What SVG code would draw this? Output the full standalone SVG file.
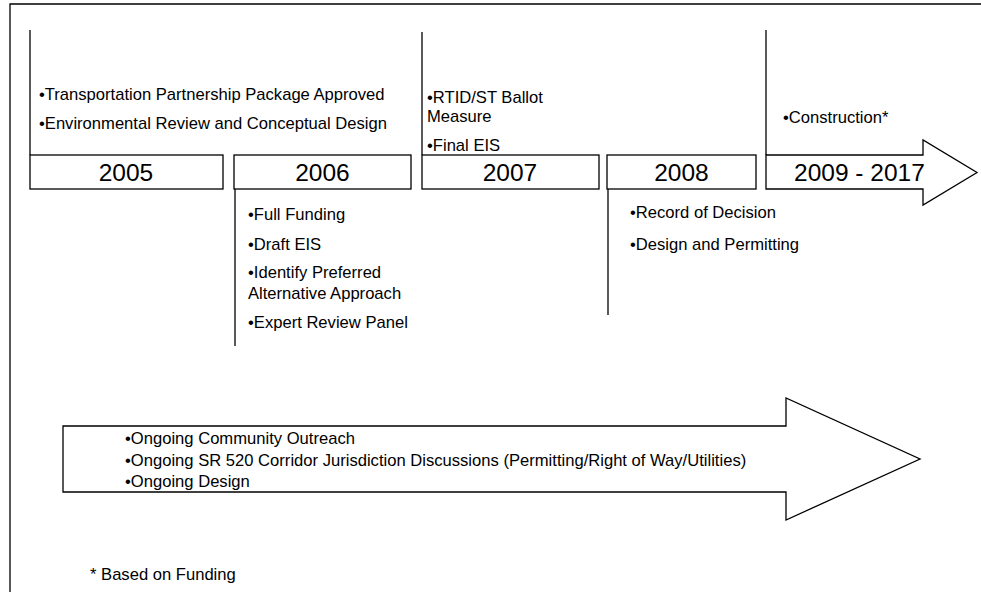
<svg xmlns="http://www.w3.org/2000/svg" width="981" height="592" viewBox="0 0 981 592">
  <style>
    .ln { stroke: #000; stroke-width: 1.3; fill: none; }
    .box { stroke: #000; stroke-width: 1.3; fill: #fff; }
    .t { font-family: "Liberation Sans", Arial, sans-serif; font-size: 16.6px; fill: #000; }
    .yr { font-family: "Liberation Sans", Arial, sans-serif; font-size: 24.5px; fill: #000; text-anchor: middle; }
  </style>
  <rect width="981" height="592" fill="#fff"/>

  <!-- page frame -->
  <g id="frame">
    <path class="ln" d="M10,592 V4 H981"/>
  </g>

  <!-- leader lines tying each year to its notes -->
  <g id="connectors">
    <line class="ln" x1="30" y1="30" x2="30" y2="155"/>
    <line class="ln" x1="235" y1="189" x2="235" y2="346"/>
    <line class="ln" x1="422" y1="32" x2="422" y2="155"/>
    <line class="ln" x1="608" y1="189" x2="608" y2="315"/>
    <line class="ln" x1="766" y1="30" x2="766" y2="155"/>
  </g>

  <g id="y2005">
    <rect class="box" x="30" y="155" width="193" height="34"/>
    <text class="yr" x="126" y="181">2005</text>
    <text class="t" x="39" y="100">•Transportation Partnership Package Approved</text>
    <text class="t" x="39" y="129">•Environmental Review and Conceptual Design</text>
  </g>

  <g id="y2006">
    <rect class="box" x="234" y="155" width="177" height="34"/>
    <text class="yr" x="322.5" y="181">2006</text>
    <text class="t" x="248" y="220">•Full Funding</text>
    <text class="t" x="248" y="250">•Draft EIS</text>
    <text class="t" x="248" y="278">•Identify Preferred</text>
    <text class="t" x="248" y="299">Alternative Approach</text>
    <text class="t" x="248" y="328">•Expert Review Panel</text>
  </g>

  <g id="y2007">
    <rect class="box" x="422" y="155" width="177" height="34"/>
    <text class="yr" x="510" y="181">2007</text>
    <text class="t" x="427" y="103">•RTID/ST Ballot</text>
    <text class="t" x="427" y="122">Measure</text>
    <text class="t" x="427" y="151">•Final EIS</text>
  </g>

  <g id="y2008">
    <rect class="box" x="607" y="155" width="149" height="34"/>
    <text class="yr" x="681.5" y="181">2008</text>
    <text class="t" x="630" y="218">•Record of Decision</text>
    <text class="t" x="630" y="250">•Design and Permitting</text>
  </g>

  <g id="y2009">
    <polygon class="box" points="766,155 923,155 923,140 977,172.5 923,205 923,189 766,189"/>
    <text class="yr" x="794" y="181" style="text-anchor:start">2009 - 2017</text>
    <text class="t" x="783" y="123">•Construction*</text>
  </g>

  <g id="ongoing">
    <polygon class="box" points="63,426 786,426 786,398 920,459 786,520 786,492 63,492"/>
    <text class="t" x="125" y="444">•Ongoing Community Outreach</text>
    <text class="t" x="125" y="466">•Ongoing SR 520 Corridor Jurisdiction Discussions (Permitting/Right of Way/Utilities)</text>
    <text class="t" x="125" y="487">•Ongoing Design</text>
  </g>

  <g id="note">
    <text class="t" x="90" y="580">* Based on Funding</text>
  </g>
</svg>
